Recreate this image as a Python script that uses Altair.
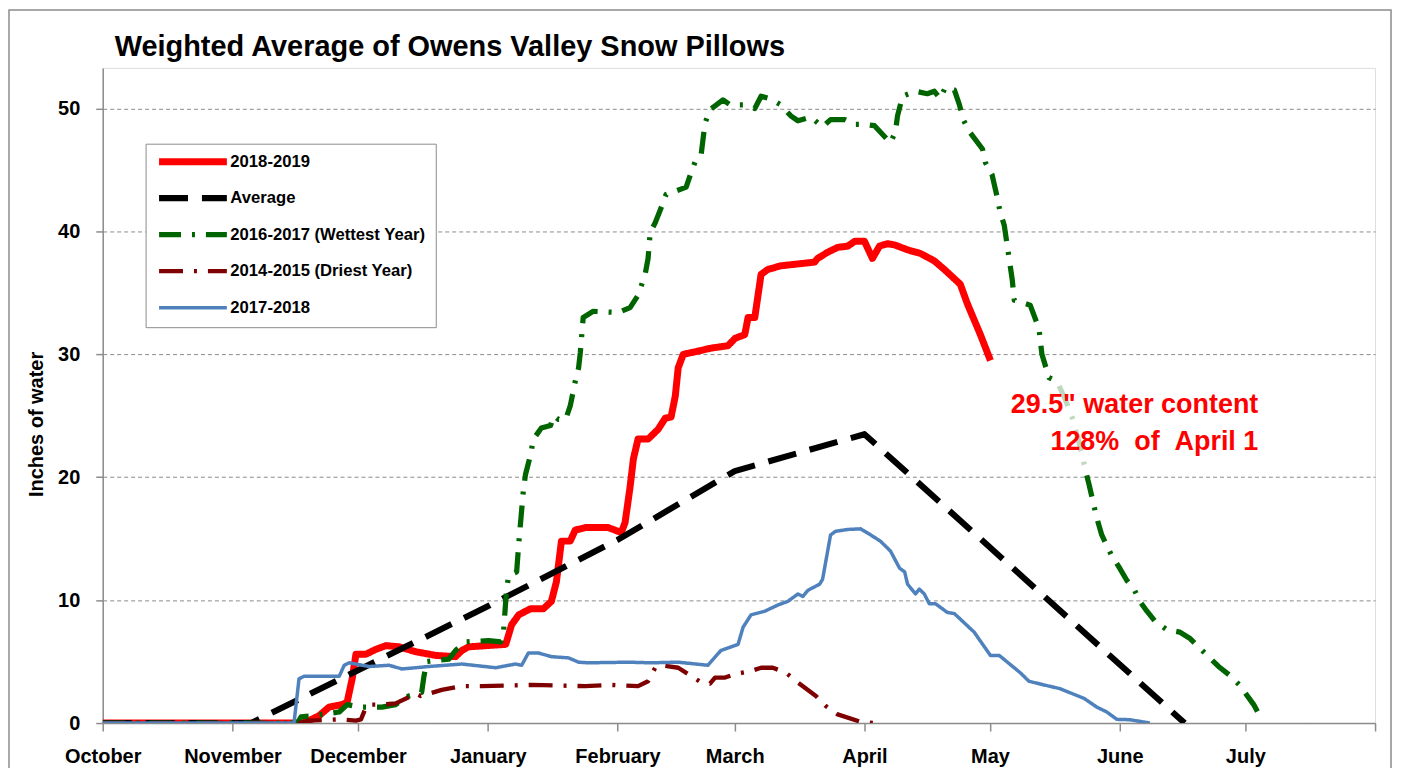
import altair as alt
import pandas as pd

FONT = "Liberation Sans, Arial, sans-serif"

# ---- x positions are days since October 1 ----
month_days = [0, 31, 61, 92, 123, 151, 182, 212, 243, 273, 304]
month_labels = ["October", "November", "December", "January", "February", "March",
                "April", "May", "June", "July", ""]

chart_title = "Weighted Average of Owens Valley Snow Pillows"

series_names = ["2018-2019", "Average", "2016-2017 (Wettest Year)",
                "2014-2015 (Driest Year)", "2017-2018"]
series_colors = ["#FF0000", "#000000", "#006400", "#7F0000", "#4F81BD"]
series_dashes = [[1, 0], [29, 14], [22, 11, 3, 11], [24, 11, 3, 11], [1, 0]]
series_widths = [7, 3.5, 3, 3, 3]

wy1819_day = [0, 47.7, 49.3, 51.7, 54.1, 57.2, 58.4, 59.6, 60.5, 62.9, 65.3, 67.7, 70.8, 74.8,
              79.6, 84.3, 85.8, 87.4, 96.3, 97.7, 99.4, 102.2, 105.3, 107.2, 108.4, 109.6,
              111.7, 112.9, 115.3, 120.8, 123.9, 124.8, 126.0, 126.8, 127.9, 130.3, 132.7,
              134.4, 135.8, 136.8, 137.5, 138.7, 141.5, 145.3, 149.4, 151.1, 153.4, 154.2,
              155.8, 157.3, 158.9, 162.0, 170.1, 170.8, 173.2, 175.6, 178.0, 179.7, 182.0,
              183.9, 185.6, 187.5, 189.2, 192.3, 195.4, 198.7, 201.1, 204.9, 206.6, 209.7, 212.1]
wy1819_val = [0, 0, 0.2, 0.6, 1.3, 1.5, 1.7, 3.6, 5.6, 5.6, 6.0, 6.3, 6.2, 5.8,
              5.5, 5.4, 5.9, 6.2, 6.4, 8.0, 8.8, 9.3, 9.3, 9.9, 11.5, 14.8,
              14.8, 15.7, 15.9, 15.9, 15.5, 16.3, 19.2, 21.5, 23.1, 23.1, 23.9,
              24.8, 24.9, 26.6, 28.9, 30.0, 30.2, 30.5, 30.7, 31.3, 31.6, 33.0,
              33.0, 36.5, 36.9, 37.2, 37.5, 37.8, 38.3, 38.7, 38.8, 39.2, 39.2,
              37.8, 38.8, 39.0, 38.9, 38.5, 38.2, 37.6, 36.9, 35.7, 34.1, 31.6, 29.5]

avg_day = [0, 35.5, 61, 92, 123, 151, 182, 258.5]
avg_val = [0, 0, 4.3, 9.5, 14.9, 20.5, 23.5, 0]

wet_day = [0, 46.5, 47.4, 50.5, 56.5, 58.4, 61.2, 66.7, 70.0, 73.1, 76.2, 76.7, 77.4, 82.7,
           84.3, 86.7, 92.2, 95.1, 95.8, 96.5, 97.0, 98.9, 99.4, 100.5, 101.0, 102.2, 102.9,
           104.8, 107.0, 107.7, 108.9, 110.6, 111.7, 112.9, 113.7, 114.1, 114.8, 117.2,
           123.2, 126.0, 127.9, 129.6, 130.3, 130.8, 132.0, 133.4, 134.6, 139.4, 140.6,
           141.8, 143.0, 143.9, 145.1, 148.2, 149.9, 153.0, 155.8, 157.3, 159.4, 162.0,
           164.4, 166.1, 169.2, 172.0, 173.9, 177.3, 179.7, 182.3, 184.4, 188.2, 189.4,
           189.9, 191.1, 194.2, 197.0, 198.7, 200.1, 201.3, 203.5, 204.7, 205.6, 207.1,
           210.2, 210.9, 212.5, 213.7, 214.4, 215.4, 217.3, 217.8, 219.7, 221.6, 223.7,
           224.4, 226.1, 228.0, 229.9, 231.6, 232.8, 234.0, 234.7, 235.6, 237.5, 238.7,
           241.1, 242.8, 244.7, 246.4, 247.8, 249.5, 251.4, 254.2, 257.3, 259.7, 262.1,
           266.6, 269.2, 271.6, 275.0, 276.9]
wet_val = [0, 0, 0.5, 0.6, 0.9, 1.5, 1.3, 1.3, 1.5, 2.2, 2.5, 3.7, 5.0, 5.2,
           5.9, 6.6, 6.7, 6.6, 7.6, 10.9, 12.0, 12.3, 14.6, 18.9, 20.2, 21.8, 23.1,
           24.0, 24.2, 25.0, 24.7, 24.7, 25.8, 27.8, 28.9, 30.1, 33.0, 33.5,
           33.4, 33.8, 34.8, 36.5, 37.8, 39.9, 40.7, 41.9, 43.0, 43.6, 44.8,
           45.9, 46.3, 48.8, 49.9, 50.7, 50.3, 50.3, 50.0, 51.0, 50.8, 50.3,
           49.4, 49.0, 49.3, 48.5, 49.1, 49.1, 48.7, 48.7, 48.6, 47.2, 48.1,
           49.4, 51.0, 51.4, 51.2, 51.4, 50.8, 51.7, 51.5, 50.3, 49.1, 48.1,
           46.7, 45.6, 44.6, 42.8, 41.6, 40.5, 36.1, 34.4, 34.2, 34.0, 32.1,
           30.0, 28.1, 27.8, 26.4, 24.9, 23.4, 21.9, 20.7, 19.5, 16.7, 15.3,
           13.6, 12.7, 11.6, 10.9, 9.9, 9.1, 8.3, 7.6, 7.4, 6.9, 6.1,
           4.6, 3.9, 3.1, 1.5, 0.3]

dry_day = [0, 46.9, 49.3, 56.5, 60.5, 61.7, 62.9, 63.6, 66.7, 70.0, 73.1, 74.8, 76.0, 81.0,
           85.8, 90.5, 102.5, 115.3, 121.5, 127.9, 130.3, 132.0, 133.4, 137.5, 140.3,
           143.0, 145.1, 146.3, 148.7, 151.3, 154.6, 157.3, 160.1, 163.2, 166.1, 170.4,
           172.7, 175.6, 181.1, 184.4]
dry_val = [0, 0, 0.2, 0.3, 0.2, 0.3, 1.3, 1.5, 1.5, 1.6, 2.1, 2.4, 2.2, 2.7,
           3.0, 3.0, 3.1, 3.0, 3.1, 3.0, 3.4, 4.5, 4.7, 4.5, 3.9,
           3.3, 3.2, 3.7, 3.7, 4.0, 4.2, 4.5, 4.5, 4.1, 3.3, 2.2,
           1.4, 0.7, 0.1, 0.0]

wy1718_day = [0, 45.7, 46.9, 48.1, 56.5, 57.7, 58.9, 63.6, 68.4, 71.5, 74.8, 77.9, 85.8,
              93.9, 98.6, 100.1, 101.7, 104.1, 107.2, 111.3, 113.7, 116.0, 125.6, 131.0,
              137.5, 144.6, 147.7, 151.8, 153.0, 154.9, 158.2, 161.3, 163.7, 166.1, 167.3,
              168.5, 171.3, 172.0, 173.9, 175.1, 178.0, 181.1, 183.5, 185.8, 188.2, 190.4,
              191.6, 192.3, 194.2, 195.1, 196.3, 197.5, 199.0, 201.8, 203.5, 208.2, 212.1,
              214.2, 219.2, 221.3, 224.9, 228.7, 234.5, 237.5, 239.9, 242.3, 245.4, 250.2]
wy1718_val = [0, 0, 3.6, 3.8, 3.8, 4.7, 4.9, 4.6, 4.7, 4.4, 4.5, 4.6, 4.8,
              4.5, 4.8, 4.7, 5.7, 5.7, 5.4, 5.3, 4.95, 4.9, 4.95, 4.9,
              4.95, 4.7, 5.9, 6.4, 7.8, 8.8, 9.1, 9.6, 9.9, 10.5, 10.3,
              10.8, 11.3, 11.7, 15.3, 15.6, 15.75, 15.8, 15.3, 14.8, 14.0, 12.6,
              12.3, 11.3, 10.5, 10.9, 10.5, 9.7, 9.7, 9.0, 8.9, 7.4, 5.5,
              5.5, 4.1, 3.4, 3.1, 2.8, 2.0, 1.3, 0.9, 0.3, 0.27, 0.0]

NB = "\u00a0"
note_lines = ["29.5\" water content", "128%" + NB * 2 + "of" + NB * 2 + "April 1"]
note_day = [276.1, 276.1]
note_val = [25.25, 22.25]
# extent of the (semi-opaque) text box behind the note, in data units
note_box_day = [215.5, 277.5]
note_box_val = [21.0, 27.6]

# ---- build tables ----
rows = []
for name, days, vals in zip(series_names,
                            [wy1819_day, avg_day, wet_day, dry_day, wy1718_day],
                            [wy1819_val, avg_val, wet_val, dry_val, wy1718_val]):
    for d, v in zip(days, vals):
        rows.append({"series": name, "day": d, "value": v})
lines_df = pd.DataFrame(rows)
notes_df = pd.DataFrame({"day": note_day, "value": note_val, "text": note_lines})
box_df = pd.DataFrame({"d1": [note_box_day[0]], "d2": [note_box_day[1]],
                       "v1": [note_box_val[0]], "v2": [note_box_val[1]]})

label_expr = "{}[indexof({}, datum.value)]".format(
    "[" + ",".join("'" + m + "'" for m in month_labels) + "]",
    "[" + ",".join(str(d) for d in month_days) + "]")

x_scale = alt.Scale(domain=[0, 304], nice=False, zero=False)
y_scale = alt.Scale(domain=[0, 53.3], nice=False)

x_axis = alt.Axis(values=month_days, labelExpr=label_expr, title=None, grid=False,
                  domainColor="#8c8c8c", domainWidth=1.5, tickColor="#8c8c8c",
                  tickWidth=1.5, tickSize=8, labelFont=FONT, labelFontSize=20,
                  labelFontWeight="bold", labelColor="black", labelPadding=16,
                  labelAngle=0, labelFlush=False, labelOverlap=False)
y_axis = alt.Axis(values=[0, 10, 20, 30, 40, 50], title="Inches of water",
                  titleFont=FONT, titleFontSize=20, titleFontWeight="bold",
                  titleColor="black", titleAngle=270, titleX=-66, titleY=357,
                  titleAlign="center", titleBaseline="middle",
                  grid=True, gridDash=[4, 3], gridColor="#8c8c8c", gridWidth=1,
                  domainColor="#8c8c8c", domainWidth=1.5, tickColor="#8c8c8c",
                  tickWidth=1.5, tickSize=7, labelFont=FONT, labelFontSize=20,
                  labelFontWeight="bold", labelColor="black", labelPadding=16)

legend = alt.Legend(title=None, orient="none", legendX=43, legendY=76,
                    symbolType="stroke", symbolSize=4624, clipHeight=16,
                    rowPadding=19.6, padding=10, labelFont=FONT, labelFontSize=16.7,
                    labelFontWeight="bold", labelColor="black", labelOffset=0,
                    strokeColor="#8c8c8c", fillColor="white", labelLimit=400)

lines = alt.Chart(lines_df).mark_line(strokeJoin="round", clip=True).encode(
    x=alt.X("day:Q", scale=x_scale, axis=x_axis),
    y=alt.Y("value:Q", scale=y_scale, axis=y_axis),
    color=alt.Color("series:N", scale=alt.Scale(domain=series_names, range=series_colors),
                    legend=legend),
    strokeDash=alt.StrokeDash("series:N",
                              scale=alt.Scale(domain=series_names, range=series_dashes),
                              legend=legend),
    strokeWidth=alt.StrokeWidth("series:N",
                                scale=alt.Scale(domain=series_names, range=series_widths),
                                legend=legend),
    order=alt.Order("day:Q"),
)

note_bg = alt.Chart(box_df).mark_rect(fill="white", opacity=0.75).encode(
    x=alt.X("d1:Q", scale=x_scale), x2="d2:Q",
    y=alt.Y("v1:Q", scale=y_scale), y2="v2:Q",
)

notes = alt.Chart(notes_df).mark_text(align="right", baseline="alphabetic", font=FONT,
                                      fontSize=27, fontWeight="bold", color="#FF0000").encode(
    x=alt.X("day:Q", scale=x_scale),
    y=alt.Y("value:Q", scale=y_scale),
    text="text:N",
)

title_mark = alt.Chart(pd.DataFrame({"t": [chart_title]})).mark_text(
    align="left", baseline="alphabetic", font=FONT, fontSize=29, fontWeight="bold",
    color="black").encode(x=alt.value(12), y=alt.value(-12), text="t:N")

frame = alt.Chart(pd.DataFrame({"k": [0]})).mark_rect(
    fill=None, filled=False, stroke="#8c8c8c", strokeWidth=1.5).encode(
    x=alt.value(-94), x2=alt.value(1292), y=alt.value(-58), y2=alt.value(800))

chart = alt.layer(frame, lines, note_bg, notes, title_mark).properties(
    width=1276, height=657,
    autosize=alt.AutoSizeParams(type="none"),
    padding={"left": 95, "top": 59, "right": 20, "bottom": 44},
).configure_view(stroke=None).configure(background="white")

chart.save("out.html", embed_options={"renderer": "svg", "actions": False})
